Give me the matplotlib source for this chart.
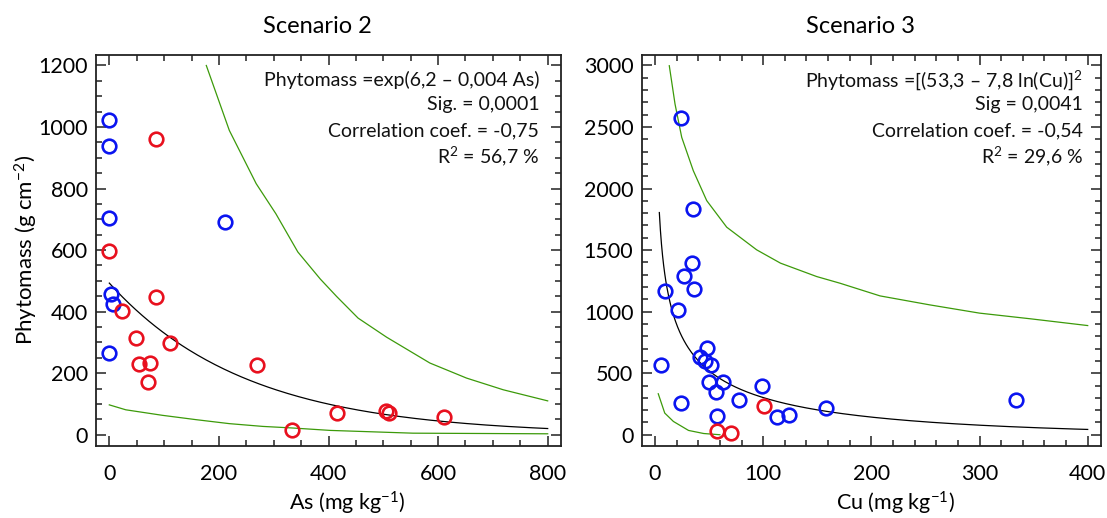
import numpy as np
import matplotlib
matplotlib.use("Agg")
import matplotlib.pyplot as plt
from matplotlib.ticker import MultipleLocator

plt.rcParams['font.family'] = ['Lato', 'DejaVu Sans']
plt.rcParams['mathtext.fontset'] = 'custom'
plt.rcParams['mathtext.rm'] = 'Lato'
plt.rcParams['mathtext.it'] = 'Lato:italic'

# ---- Scenario 2: phytomass vs As ----
as_blue_x = [0, 0, 0, 3, 7, 0, 211]
as_blue_y = [1024, 937, 704, 457, 425, 264, 691]
as_red_x = [0, 85, 85, 23, 49, 110, 54, 75, 71, 269, 333, 415, 505, 511, 610]
as_red_y = [596, 962, 446, 401, 314, 298, 231, 233, 171, 225, 15, 70, 76, 70, 59]
as_upper_x = [177, 219, 268, 304, 344, 385, 415, 454, 506, 585, 652, 719, 800]
as_upper_y = [1200, 989, 816, 718, 594, 506, 449, 379, 317, 233, 184, 146, 110]
as_lower_x = [0, 30, 97, 158, 219, 280, 333, 403, 554, 800]
as_lower_y = [97, 81, 63, 49, 36, 27, 22, 14, 5, 3]
as_fit_a, as_fit_b = 6.2, 0.004

# ---- Scenario 3: phytomass vs Cu ----
cu_blue_x = [23.8, 34.8, 33.9, 27.1, 9.2, 36.3, 21.5, 47.8, 41.6, 46.2, 51.8,
             5.3, 50.2, 63.1, 56.4, 98.6, 77.6, 24.0, 57.0, 112.5, 123.9, 157.8, 333.7]
cu_blue_y = [2576, 1832, 1392, 1289, 1170, 1181, 1014, 708, 630, 600, 568,
             568, 432, 427, 351, 392, 284, 257, 154, 148, 162, 216, 284]
cu_red_x = [101, 57, 70]
cu_red_y = [230, 27, 14]
cu_upper_x = [13.2, 18.5, 24.7, 35.4, 47.8, 66.3, 94, 116, 149.5, 171, 208, 254, 300, 347, 400]
cu_upper_y = [2998, 2687, 2416, 2145, 1902, 1686, 1502, 1394, 1285, 1231, 1128, 1055, 988, 942, 887]
cu_lower_x = [3, 9, 17, 31, 45, 60]
cu_lower_y = [333, 176, 108, 35, 10, 0]
cu_fit_a, cu_fit_b = 53.3, 7.8

BLUE = '#0a14f0'
RED = '#e8101e'
GREEN = '#3c9a0a'

fig = plt.figure(figsize=(11.07, 5.18), dpi=100)
ax1 = fig.add_axes([96 / 1107, 72.3 / 518, 465 / 1107, 391.2 / 518])
ax2 = fig.add_axes([641.7 / 1107, 72.3 / 518, 459.3 / 1107, 391.2 / 518])


def style_axes(ax, xmaj, xmin, ymaj, ymin):
    ax.xaxis.set_major_locator(MultipleLocator(xmaj))
    ax.xaxis.set_minor_locator(MultipleLocator(xmin))
    ax.yaxis.set_major_locator(MultipleLocator(ymaj))
    ax.yaxis.set_minor_locator(MultipleLocator(ymin))
    ax.tick_params(which='both', direction='in', top=True, right=True,
                   width=1.1, colors='#222222', labelcolor='black')
    ax.tick_params(which='major', length=7)
    ax.tick_params(which='minor', length=4.5)
    ax.tick_params(axis='x', which='major', pad=13, labelsize=15.5)
    ax.tick_params(axis='y', which='major', pad=6, labelsize=15.5)
    for s in ax.spines.values():
        s.set_linewidth(1.3)
        s.set_color('#222222')


def scatter(ax, x, y, c):
    ax.plot(x, y, linestyle='none', marker='o', markersize=9.8,
            markerfacecolor='none', markeredgecolor=c, markeredgewidth=1.9,
            zorder=4)


# Scenario 2 panel
xs = np.linspace(0, 800, 200)
ax1.plot(xs, np.exp(as_fit_a - as_fit_b * xs), color='black', lw=0.9, zorder=3)
ax1.plot(as_upper_x, as_upper_y, color=GREEN, lw=0.9, zorder=3)
ax1.plot(as_lower_x, as_lower_y, color=GREEN, lw=0.9, zorder=3)
scatter(ax1, as_blue_x, as_blue_y, BLUE)
scatter(ax1, as_red_x, as_red_y, RED)
ax1.set_xlim(-24.3, 824.3)
ax1.set_ylim(-35.7, 1235.7)
style_axes(ax1, 200, 50, 200, 50)

# Scenario 3 panel
xc = np.linspace(4, 400, 400)
ax2.plot(xc, (cu_fit_a - cu_fit_b * np.log(xc)) ** 2, color='black', lw=0.9, zorder=3)
ax2.plot(cu_upper_x, cu_upper_y, color=GREEN, lw=0.9, zorder=3)
ax2.plot(cu_lower_x, cu_lower_y, color=GREEN, lw=0.9, zorder=3)
scatter(ax2, cu_blue_x, cu_blue_y, BLUE)
scatter(ax2, cu_red_x, cu_red_y, RED)
ax2.set_xlim(-12.3, 412.3)
ax2.set_ylim(-89, 3089)
style_axes(ax2, 100, 20, 500, 100)

# Regression statistics
stats1 = ['Phytomass =exp(6,2 – 0,004 As)', 'Sig. = 0,0001',
          'Correlation coef. = -0,75', 'R$^{2}$ = 56,7 %']
stats2 = ['Phytomass =[(53,3 – 7,8 ln(Cu)]$^{2}$', 'Sig = 0,0041',
          'Correlation coef. = -0,54', 'R$^{2}$ = 29,6 %']
line_y = [0.935, 0.871, 0.805, 0.739]
for ax, lines, xr in ((ax1, stats1, 0.953), (ax2, stats2, 0.961)):
    for t, yy in zip(lines, line_y):
        ax.text(xr, yy, t, transform=ax.transAxes, ha='right', va='center',
                fontsize=14, color='#111111')

fig.text(317 / 1107, 1 - 26.7 / 518, 'Scenario 2', ha='center', va='center', fontsize=17)
fig.text(861 / 1107, 1 - 26.7 / 518, 'Scenario 3', ha='center', va='center', fontsize=17)
fig.text(26 / 1107, 1 - 250 / 518, 'Phytomass (g cm$^{-2}$)', rotation=90,
         ha='center', va='center', fontsize=16)
fig.text(347 / 1107, 1 - 503 / 518, 'As (mg kg$^{-1}$)', ha='center', va='center', fontsize=15.5)
fig.text(896 / 1107, 1 - 503 / 518, 'Cu (mg kg$^{-1}$)', ha='center', va='center', fontsize=15.5)

fig.savefig('out.png', dpi=100)
